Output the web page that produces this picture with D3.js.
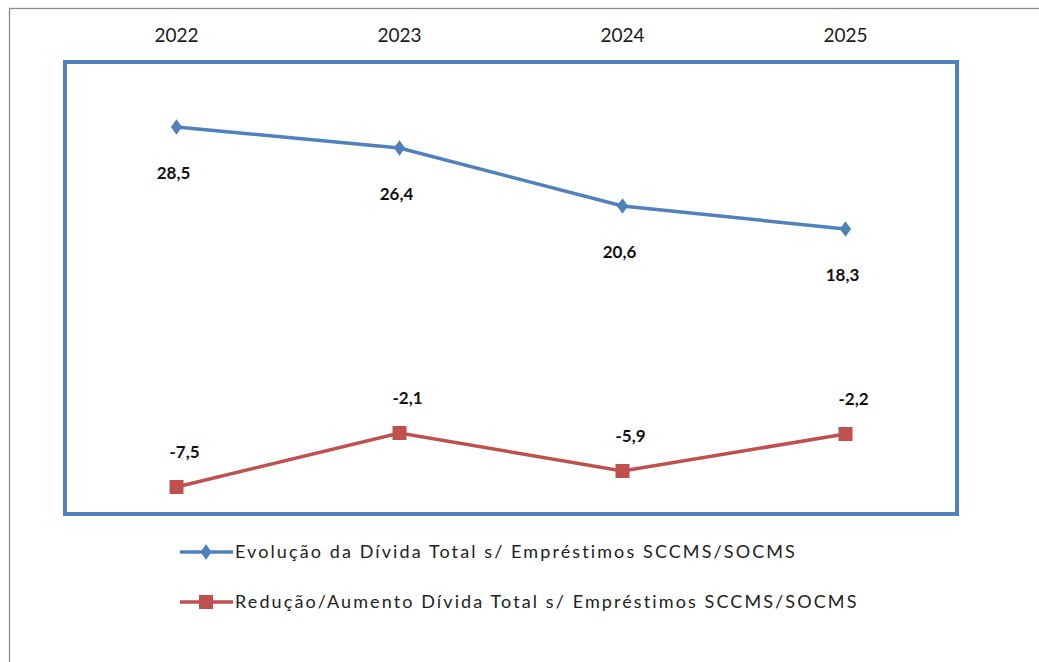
<!DOCTYPE html>
<html><head><meta charset="utf-8">
<script src="https://cdn.jsdelivr.net/npm/d3@7"></script>
<style>body{margin:0;background:#fff}svg{display:block}</style>
</head><body>
<svg id="c" width="1039" height="662"></svg>
<script>
const categories = ["2022","2023","2024","2025"];
const evolucao = [28.5, 26.4, 20.6, 18.3];
const reducao = [-7.5, -2.1, -5.9, -2.2];
const seriesNames = ["Evolução da Dívida Total s/ Empréstimos SCCMS/SOCMS",
                     "Redução/Aumento Dívida Total s/ Empréstimos SCCMS/SOCMS"];
const fmt = v => d3.format(".1f")(v).replace(".", ",").replace("\u2212", "-");

const svg = d3.select("#c");
const font = "Lato, 'Open Sans', sans-serif";
const blue = "#4F81BD", red = "#C0504D";

// outer chart border
svg.append("rect").attr("x",9.5).attr("y",8.5).attr("width",1100).attr("height",700)
  .attr("fill","none").attr("stroke","#8c8c8c").attr("stroke-width",1.3);

const L = 65, R = 957, T = 62, B = 514;
const x = d3.scaleBand().domain(categories).range([L, R]);
const y = d3.scaleLinear().domain([-10, 35]).range([512, 62]);

// plot area border
svg.append("rect").attr("x",L).attr("y",T).attr("width",R-L).attr("height",B-T)
  .attr("fill","none").attr("stroke",blue).attr("stroke-width",4);

// top axis
const ax = svg.append("g").attr("transform",`translate(0,${T-20})`)
  .call(d3.axisTop(x).tickSize(0).tickPadding(0));
ax.select(".domain").remove();
ax.selectAll("text").attr("font-family",font).attr("font-size",19).attr("fill","#1a1a1a")
  .attr("dy","0");

const cx = d => x(d) + x.bandwidth()/2;
const line = d3.line().x((d,i)=>cx(categories[i])).y(d=>y(d));

// blue series
svg.append("path").datum(evolucao).attr("d",line).attr("fill","none")
  .attr("stroke",blue).attr("stroke-width",3.5);
svg.selectAll(".dm").data(evolucao).join("path").attr("class","dm")
  .attr("d",d3.symbol(d3.symbolDiamond,70)())
  .attr("transform",(d,i)=>`translate(${cx(categories[i])},${y(d)}) scale(1.25,1)`)
  .attr("fill",blue);
svg.selectAll(".lb").data(evolucao).join("text").attr("class","lb")
  .attr("x",(d,i)=>cx(categories[i])-3).attr("y",d=>y(d)+52)
  .attr("text-anchor","middle").attr("font-family",font).attr("font-weight","bold")
  .attr("font-size",17).attr("fill","#111").text(fmt);

// red series
svg.append("path").datum(reducao).attr("d",line).attr("fill","none")
  .attr("stroke",red).attr("stroke-width",3.5);
svg.selectAll(".sq").data(reducao).join("rect").attr("class","sq")
  .attr("x",(d,i)=>cx(categories[i])-7).attr("y",d=>y(d)-7)
  .attr("width",14).attr("height",14).attr("fill",red);
svg.selectAll(".lr").data(reducao).join("text").attr("class","lr")
  .attr("x",(d,i)=>cx(categories[i])+8).attr("y",d=>y(d)-29)
  .attr("text-anchor","middle").attr("font-family",font).attr("font-weight","bold")
  .attr("font-size",17).attr("fill","#111").text(fmt);

// legend
const leg = svg.append("g");
[[blue,"diamond"],[red,"square"]].forEach((s,i)=>{
  const ly = 552 + i*50;
  leg.append("line").attr("x1",180).attr("x2",233).attr("y1",ly).attr("y2",ly)
    .attr("stroke",s[0]).attr("stroke-width",3.5);
  if (s[1]==="diamond") {
    leg.append("path").attr("d",d3.symbol(d3.symbolDiamond,70)())
      .attr("transform",`translate(206,${ly}) scale(1.25,1)`).attr("fill",s[0]);
  } else {
    leg.append("rect").attr("x",199).attr("y",ly-7).attr("width",14).attr("height",14).attr("fill",s[0]);
  }
  leg.append("text").attr("x",235).attr("y",ly+6).attr("font-family",font)
    .attr("font-size",18).attr("letter-spacing","2.1px").attr("fill","#222").text(seriesNames[i]);
});
</script>
</body></html>
